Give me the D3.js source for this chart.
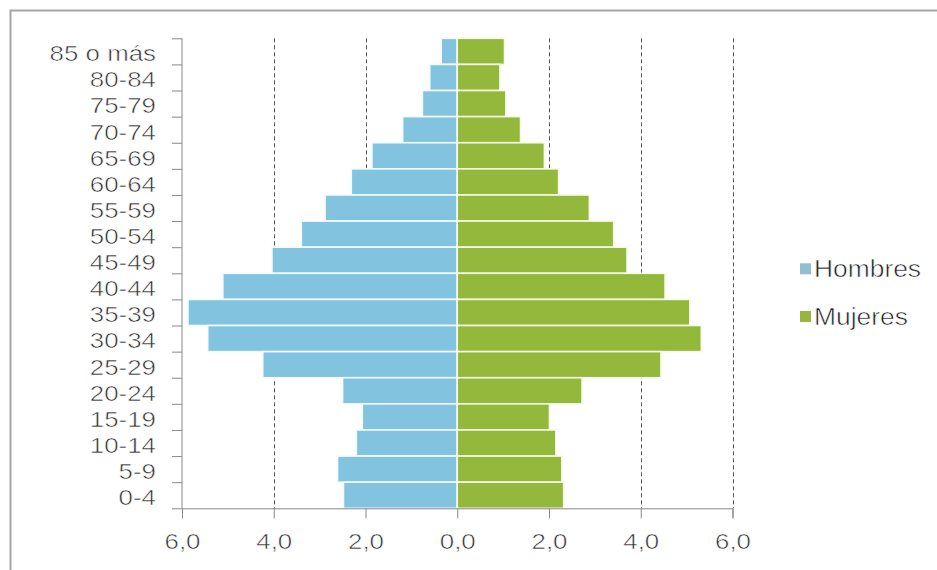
<!DOCTYPE html>
<html>
<head>
<meta charset="utf-8">
<script src="https://cdn.jsdelivr.net/npm/d3@7/dist/d3.min.js"></script>
<style>
  html, body { margin: 0; padding: 0; background: #fff; }
  svg { display: block; }
  text { font-family: "Liberation Sans", Arial, sans-serif; fill: #404040; font-weight: normal; }
</style>
</head>
<body>
<svg id="chart" width="937" height="570"></svg>
<script>
const categories = ["85 o más","80-84","75-79","70-74","65-69","60-64","55-59","50-54","45-49","40-44","35-39","30-34","25-29","20-24","15-19","10-14","5-9","0-4"];
const hombres = [0.35,0.60,0.76,1.19,1.86,2.31,2.88,3.40,4.04,5.11,5.87,5.44,4.24,2.50,2.07,2.20,2.61,2.48];
const mujeres = [1.03,0.93,1.06,1.38,1.90,2.21,2.88,3.41,3.70,4.53,5.07,5.32,4.44,2.72,2.01,2.15,2.28,2.32];
const xTicks = [-6,-4,-2,0,2,4,6];
const gridTicks = [-4,-2,2,4,6];
const seriesNames = ["Hombres","Mujeres"];
const seriesColors = ["#82c4df","#94b83c"];
const legendColors = ["#8fc0cf","#9cb33f"];

(function(){
const svg = d3.select("#chart");
const pTop = 38.3, pBottom = 508.3, pLeft = 182, pRight = 732.5;
const sx = 1.15;
const FONT = '"Liberation Sans", Arial, sans-serif';

// outer frame
svg.append("rect").attr("x",10.5).attr("y",10.5).attr("width",940).attr("height",570)
  .attr("fill","none").attr("stroke","#a6a6a6").attr("stroke-width",2);

const x = d3.scaleLinear().domain([-6,6]).range([pLeft,pRight]);
const y = d3.scaleBand().domain(categories).range([pTop,pBottom]).padding(0);
const yb = d3.scaleLinear().domain([0,categories.length]).range([pTop,pBottom]);

// gridlines
svg.append("g").selectAll("line").data(gridTicks).join("line")
  .attr("x1",d=>Math.round(x(d))+0.5).attr("x2",d=>Math.round(x(d))+0.5)
  .attr("y1",pTop).attr("y2",pBottom)
  .attr("stroke","#555").attr("stroke-width",1).attr("stroke-dasharray","4,3");

// bars
const bars = svg.append("g");
bars.selectAll("rect.h").data(categories).join("rect").attr("class","h")
  .attr("x",(d,i)=>x(-hombres[i])).attr("width",(d,i)=>x(0)-x(-hombres[i]))
  .attr("y",d=>y(d)).attr("height",y.bandwidth())
  .attr("fill",seriesColors[0]).attr("stroke","#f4fbff").attr("stroke-width",1.6);
bars.selectAll("rect.m").data(categories).join("rect").attr("class","m")
  .attr("x",x(0)).attr("width",(d,i)=>x(mujeres[i])-x(0))
  .attr("y",d=>y(d)).attr("height",y.bandwidth())
  .attr("fill",seriesColors[1]).attr("stroke","#f6fbe8").attr("stroke-width",1.6);

// y axis: boundary ticks
const yAxisG = svg.append("g").attr("transform",`translate(${pLeft},0)`)
  .call(d3.axisLeft(yb).ticks(categories.length).tickSize(10).tickFormat(""));
yAxisG.select(".domain").attr("stroke","#888").attr("d",`M0,${pTop}V${pBottom}`);
yAxisG.selectAll(".tick line").attr("stroke","#888");

function styleText(sel, size, fill){
  sel.style("font-family",FONT).style("font-size",size+"px").style("font-weight","400")
     .style("fill",fill).style("stroke","#fff").style("stroke-width","0.55px")
     .style("paint-order","fill");
}

// y labels
const yLab = svg.append("g").attr("transform",`translate(${pLeft},0)`)
  .call(d3.axisLeft(y).tickSize(0).tickPadding(0))
  .attr("font-family", FONT).attr("font-size", 22.5);
yLab.select(".domain").remove();
yLab.selectAll(".tick text")
  .attr("x",-26/sx).attr("dy","0.44em")
  .attr("transform",`scale(${sx},1)`)
  .call(styleText, 22.5, "#333");

// x axis
const xAxisG = svg.append("g").attr("transform",`translate(0,${pBottom})`)
  .call(d3.axisBottom(x).tickValues(xTicks).tickSize(10).tickPadding(15)
    .tickFormat(d=>Math.abs(d).toFixed(1).replace(".",",")))
  .attr("font-family", FONT).attr("font-size", 22.5);
xAxisG.select(".domain").attr("stroke","#888");
xAxisG.selectAll(".tick line").attr("stroke","#888");
xAxisG.selectAll(".tick text")
  .attr("transform",`scale(${sx},1)`)
  .call(styleText, 22.5, "#333");

// legend
const leg = svg.append("g");
const legY = [277.3, 325];
seriesNames.forEach((name,i)=>{
  const g = leg.append("g").attr("transform",`translate(800,${legY[i]})`);
  g.append("rect").attr("x",0).attr("y",-14).attr("width",11).attr("height",11)
    .attr("fill",legendColors[i]);
  g.append("text").attr("x",14/1.1).attr("y",0)
    .attr("transform","scale(1.1,1)")
    .text(name).call(styleText, 24, "#222");
});
})();
</script>
</body>
</html>
